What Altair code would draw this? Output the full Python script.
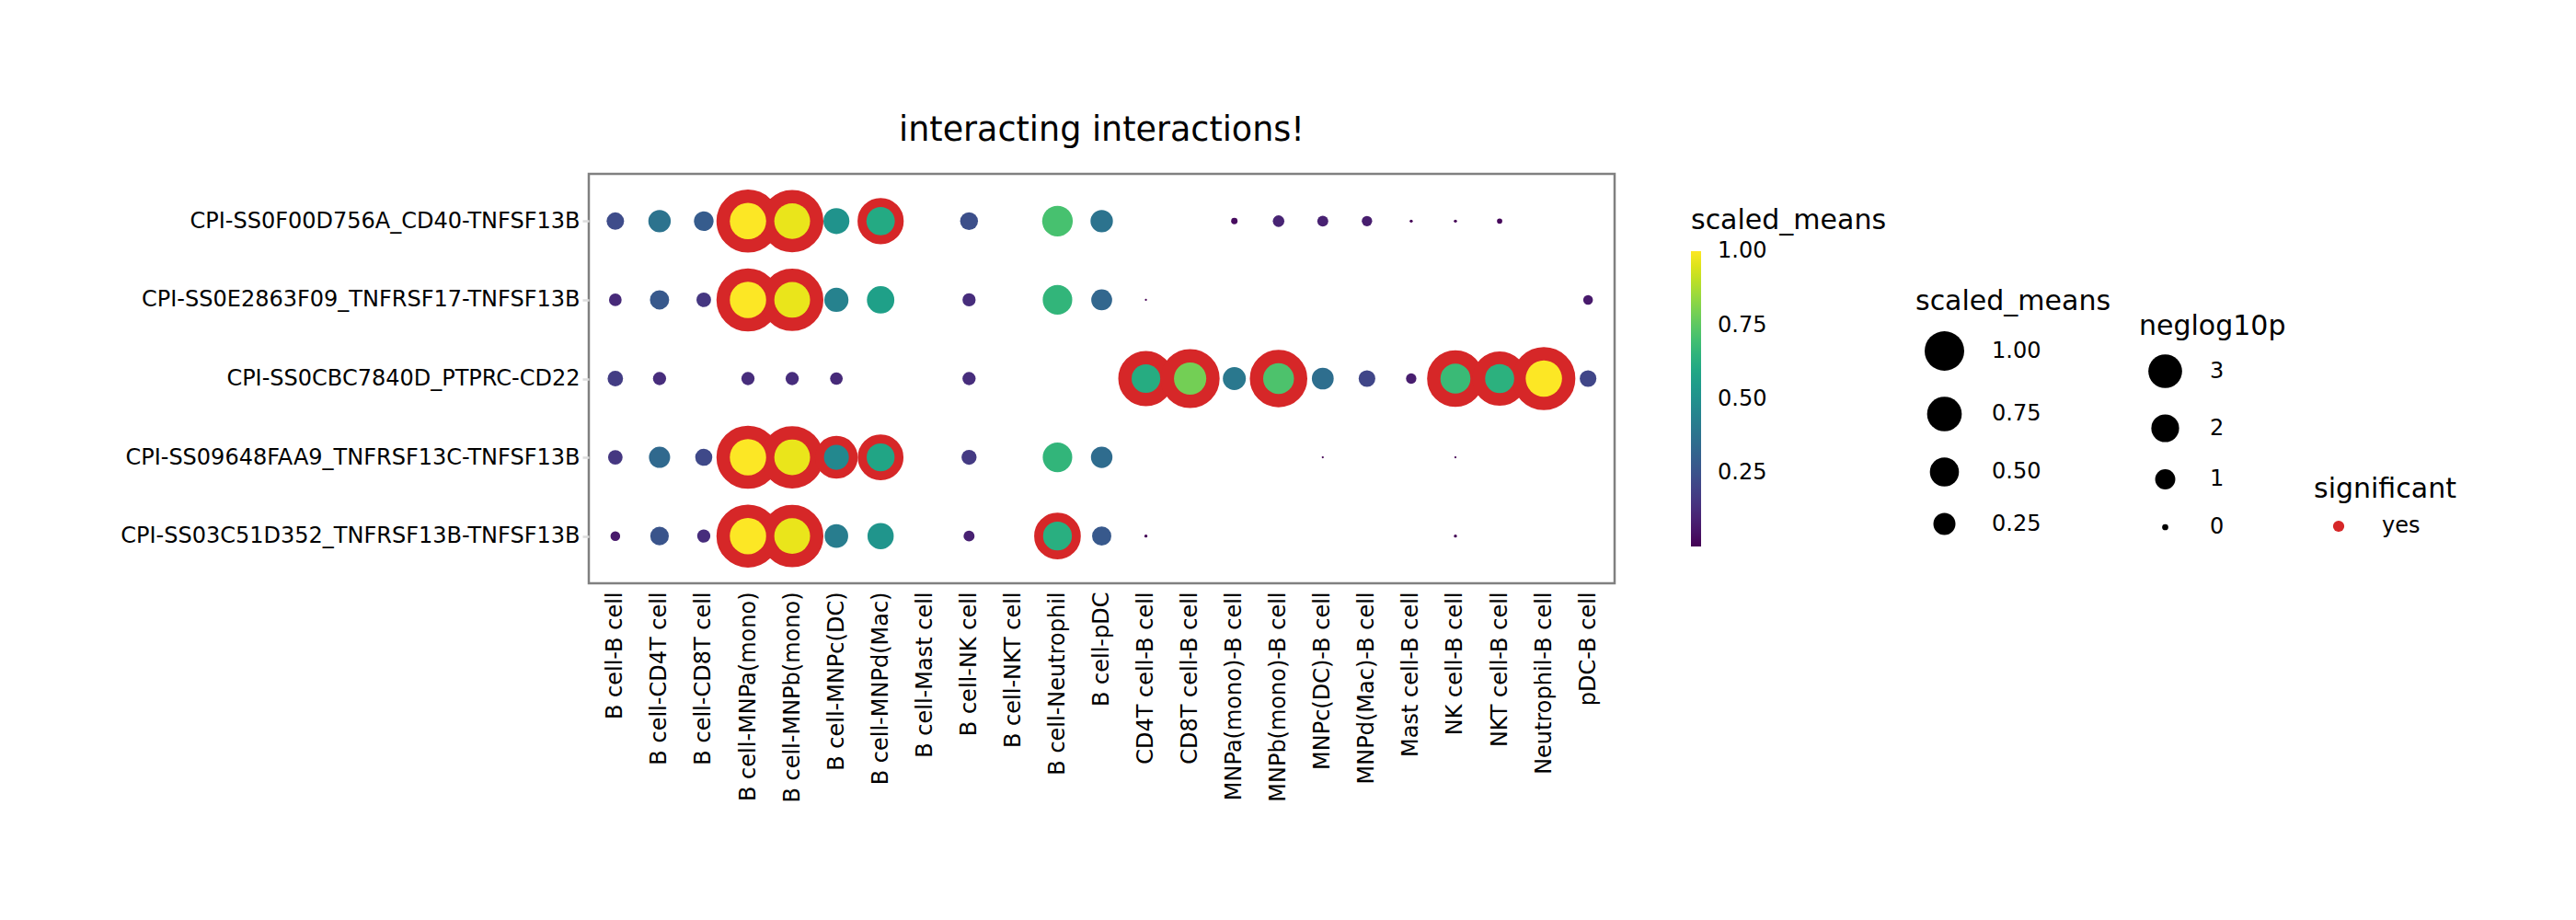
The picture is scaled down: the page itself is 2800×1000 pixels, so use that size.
import altair as alt
import pandas as pd

# ligand-receptor interactions (rows, top to bottom)
interactions = [
    "CPI-SS0F00D756A_CD40-TNFSF13B",
    "CPI-SS0E2863F09_TNFRSF17-TNFSF13B",
    "CPI-SS0CBC7840D_PTPRC-CD22",
    "CPI-SS09648FAA9_TNFRSF13C-TNFSF13B",
    "CPI-SS03C51D352_TNFRSF13B-TNFSF13B",
]

# sender-receiver cell type pairs (columns)
celltype_pairs = [
    "B cell-B cell", "B cell-CD4T cell", "B cell-CD8T cell", "B cell-MNPa(mono)",
    "B cell-MNPb(mono)", "B cell-MNPc(DC)", "B cell-MNPd(Mac)", "B cell-Mast cell",
    "B cell-NK cell", "B cell-NKT cell", "B cell-Neutrophil", "B cell-pDC",
    "CD4T cell-B cell", "CD8T cell-B cell", "MNPa(mono)-B cell", "MNPb(mono)-B cell",
    "MNPc(DC)-B cell", "MNPd(Mac)-B cell", "Mast cell-B cell", "NK cell-B cell",
    "NKT cell-B cell", "Neutrophil-B cell", "pDC-B cell",
]

# scaled mean expression for each interaction, one entry per cell type pair
# (None = no expression detected)
means_cd40 = [0.23, 0.38, 0.29, 1.00, 0.97, 0.51, 0.61, None, 0.24, None, 0.71, 0.38,
              None, None, 0.03, 0.10, 0.09, 0.08, 0.006, 0.006, 0.02, None, None]
means_tnfrsf17 = [0.12, 0.28, 0.16, 1.00, 0.97, 0.44, 0.57, None, 0.13, None, 0.66, 0.33,
                  0.002, None, None, None, None, None, None, None, None, None, 0.07]
means_ptprc = [0.18, 0.13, None, 0.13, 0.13, 0.12, None, None, 0.13, None, None, None,
               0.62, 0.79, 0.40, 0.72, 0.36, 0.21, 0.08, 0.68, 0.64, 1.00, 0.21]
means_tnfrsf13c = [0.16, 0.34, 0.22, 1.00, 0.97, 0.47, 0.59, None, 0.17, None, 0.66, 0.35,
                   None, None, None, None, 0.002, None, None, 0.002, None, None, None]
means_tnfrsf13b = [0.07, 0.26, 0.13, 1.00, 0.97, 0.42, 0.52, None, 0.09, None, 0.63, 0.28,
                   0.006, None, None, None, None, None, None, 0.006, None, None, None]

# -log10(p) of the significant pairs per interaction
signif_cd40 = {"B cell-MNPa(mono)": 3.0, "B cell-MNPb(mono)": 3.0, "B cell-MNPd(Mac)": 2.0}
signif_tnfrsf17 = {"B cell-MNPa(mono)": 3.0, "B cell-MNPb(mono)": 3.0}
signif_ptprc = {"CD4T cell-B cell": 3.0, "CD8T cell-B cell": 3.0, "MNPb(mono)-B cell": 3.0,
                "NK cell-B cell": 3.0, "NKT cell-B cell": 2.85, "Neutrophil-B cell": 3.0}
signif_tnfrsf13c = {"B cell-MNPa(mono)": 3.0, "B cell-MNPb(mono)": 3.0,
                    "B cell-MNPc(DC)": 2.0, "B cell-MNPd(Mac)": 2.0}
signif_tnfrsf13b = {"B cell-MNPa(mono)": 3.0, "B cell-MNPb(mono)": 3.0, "B cell-Neutrophil": 2.0}

# legend key values
mean_key_values = [1.0, 0.75, 0.5, 0.25]
pval_key_values = [3, 2, 1, 0]

row_means = [means_cd40, means_tnfrsf17, means_ptprc, means_tnfrsf13c, means_tnfrsf13b]
row_signif = [signif_cd40, signif_tnfrsf17, signif_ptprc, signif_tnfrsf13c, signif_tnfrsf13b]

records = []
for name, means, signif in zip(interactions, row_means, row_signif):
    for pair, value in zip(celltype_pairs, means):
        if value is None:
            continue
        records.append({
            "interaction": name,
            "pair": pair,
            "scaled_means": value,
            "neglog10p": signif.get(pair, 0.0),
            "significant": "yes" if pair in signif else "no",
        })
df = pd.DataFrame(records)

FONT = "DejaVu Sans"
RED = "#D62728"

dot_size = alt.Scale(domain=[0, 1], range=[2, 1560])

base = alt.Chart(df).encode(
    x=alt.X(
        "pair:N",
        scale=alt.Scale(domain=celltype_pairs, padding=0.6),
        axis=alt.Axis(
            title=None, labelAngle=270, labelAlign="right", labelBaseline="middle",
            labelPadding=9, ticks=False, domain=False, labelLimit=1000,
        ),
    ),
    y=alt.Y(
        "interaction:N",
        scale=alt.Scale(domain=interactions, padding=0.6),
        axis=alt.Axis(
            title=None, labelPadding=3, ticks=True, tickSize=7, tickColor="#dddddd",
            tickWidth=2.5, domain=False, labelLimit=1000,
        ),
    ),
)

# invisible layers that only carry the two size keys
mean_key = base.mark_circle(color="black", opacity=0).encode(
    size=alt.Size(
        "scaled_means:Q",
        scale=alt.Scale(domain=[0, 1], range=[152, 1849]),
        legend=alt.Legend(
            title="scaled_means", orient="none", legendX=1442, legendY=124,
            values=mean_key_values, format=".2f", symbolOpacity=1,
            symbolFillColor="black", symbolStrokeWidth=0, titlePadding=17,
            rowPadding=28, symbolOffset=10, labelOffset=30,
        ),
    )
)

pval_key = base.mark_circle(color="black", opacity=0).encode(
    size=alt.Size(
        "neglog10p:Q",
        scale=alt.Scale(domain=[0, 3], range=[45, 1347]),
        legend=alt.Legend(
            title="neglog10p", orient="none", legendX=1685, legendY=151,
            values=pval_key_values, format="d", symbolOpacity=1,
            symbolFillColor="black", symbolStrokeWidth=0, titlePadding=15,
            rowPadding=28, symbolOffset=10, labelOffset=30,
        ),
    )
)

# red rings behind significant pairs, ring width from -log10(p)
rings = base.transform_filter("datum.significant == 'yes'").mark_circle(
    opacity=1, stroke=RED
).encode(
    size=alt.Size("scaled_means:Q", scale=dot_size, legend=None),
    strokeWidth=alt.StrokeWidth(
        "neglog10p:Q", scale=alt.Scale(domain=[0, 3], range=[0, 29]), legend=None
    ),
    fill=alt.Fill(
        "significant:N",
        scale=alt.Scale(domain=["yes"], range=[RED]),
        legend=alt.Legend(
            title="significant", orient="none", legendX=1875, legendY=328,
            symbolSize=150, symbolStrokeWidth=0, titlePadding=13,
            symbolOffset=15, labelOffset=35,
        ),
    ),
)

# mean-expression dots
dots = base.mark_circle(opacity=1).encode(
    color=alt.Color(
        "scaled_means:Q",
        scale=alt.Scale(scheme="viridis", domain=[0.002, 1.001]),
        legend=alt.Legend(
            title="scaled_means", orient="none", direction="vertical",
            legendX=1198, legendY=36, gradientLength=321, gradientThickness=11,
            gradientStrokeWidth=0, values=[0.25, 0.5, 0.75, 1.0], format=".2f",
            titlePadding=18, labelOffset=18,
        ),
    ),
    size=alt.Size("scaled_means:Q", scale=dot_size, legend=None),
)

chart = (
    alt.layer(mean_key, pval_key, rings, dots)
    .resolve_scale(size="independent")
    .properties(
        width=1115,
        height=445,
        title=alt.TitleParams(
            "interacting interactions!", fontSize=36.5, font=FONT, fontWeight="normal",
            color="black", anchor="middle", frame="group", offset=2,
        ),
        autosize=alt.AutoSizeParams(type="none"),
        padding={"left": 640, "top": 189, "right": 1045, "bottom": 366},
        background="white",
    )
    .configure(font=FONT)
    .configure_view(stroke="#808080", strokeWidth=2.5)
    .configure_axis(
        labelFont=FONT, labelFontSize=24, labelColor="black",
        gridColor="#e5e5e5", gridWidth=2.5,
    )
    .configure_legend(
        titleFont=FONT, titleFontSize=30, titleFontWeight="normal", titleColor="black",
        labelFont=FONT, labelFontSize=24, labelColor="black",
        titleLimit=1000, labelLimit=1000,
    )
)

chart.save("out.html", embed_options={"renderer": "svg", "actions": False})
